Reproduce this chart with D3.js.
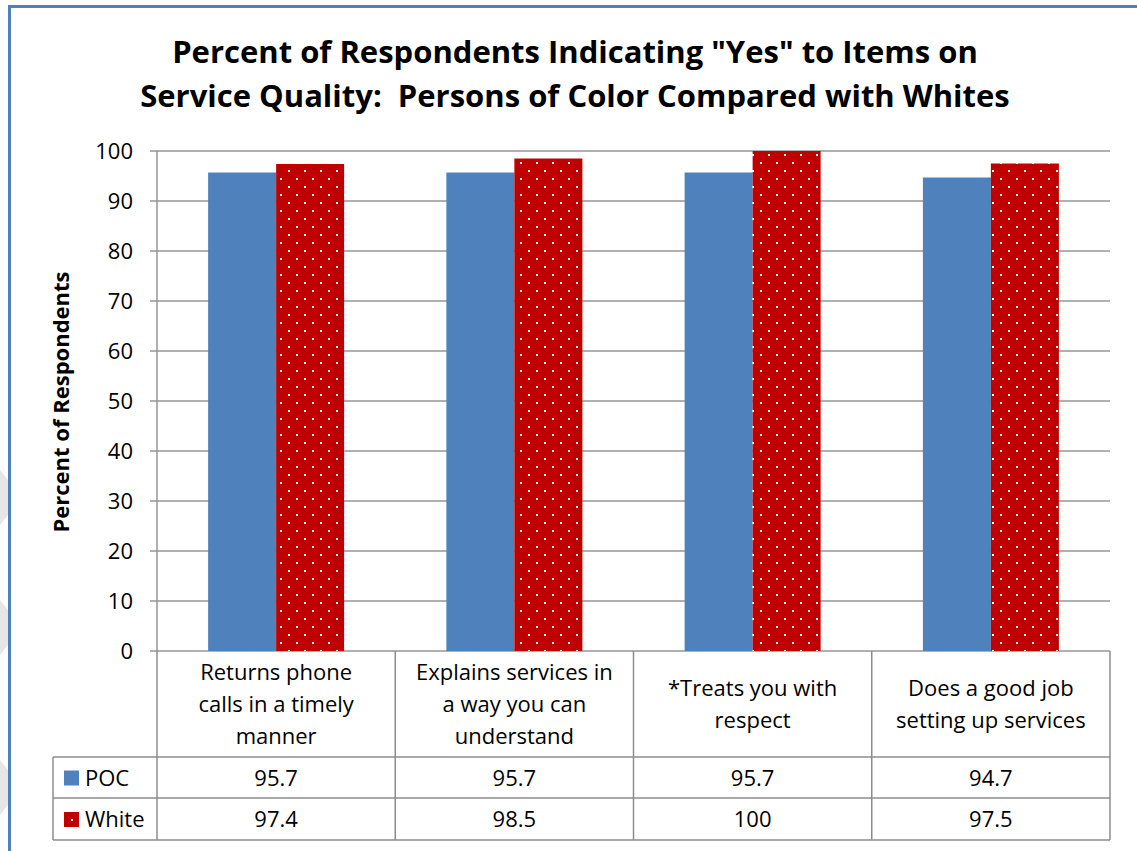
<!DOCTYPE html>
<html><head><meta charset="utf-8">
<script src="https://cdn.jsdelivr.net/npm/d3@7"></script>
<style>body{margin:0;background:#fff;overflow:hidden}svg{display:block}text{white-space:pre}</style>
</head><body>
<script>
const categories = [
  ["Returns phone","calls in a timely","manner"],
  ["Explains services in","a way you can","understand"],
  ["*Treats you with","respect"],
  ["Does a good job","setting up services"]
];
const seriesNames = ["POC","White"];
const pocValues = [95.7, 95.7, 95.7, 94.7];
const whiteValues = [97.4, 98.5, 100, 97.5];
const pocLabels = ["95.7","95.7","95.7","94.7"];
const whiteLabels = ["97.4","98.5","100","97.5"];
const yTicks = [0,10,20,30,40,50,60,70,80,90,100];
const titleLines = ['Percent of Respondents Indicating "Yes" to Items on','Service Quality:  Persons of Color Compared with Whites'];
const yLabel = "Percent of Respondents";

(function(){
const W = 1137, H = 851;
const font = "'Open Sans', 'Noto Sans', sans-serif";
const svg = d3.select("body").append("svg").attr("width", W).attr("height", H);
const defs = svg.append("defs");
const pat = defs.append("pattern").attr("id","dots").attr("patternUnits","userSpaceOnUse")
  .attr("width",16).attr("height",16).attr("x",0).attr("y",0);
pat.append("rect").attr("width",16).attr("height",16).attr("fill","#C00000");
pat.append("rect").attr("x",8).attr("y",2).attr("width",2).attr("height",2).attr("fill","#fff");
pat.append("rect").attr("x",0).attr("y",10).attr("width",2).attr("height",2).attr("fill","#fff");

const gray = svg.append("g").attr("fill","#e6e6e6");
[[0,470],[0,600],[0,760]].forEach(([x0,y0])=>{
  gray.append("path").attr("d",`M0,${y0} L8,${y0+10} L8,${y0+45} L0,${y0+55} Z`);
});

svg.append("path").attr("d",`M9.5,${H} L9.5,6.5 L${W},6.5`).attr("fill","none")
  .attr("stroke","#4F81BD").attr("stroke-width",3);

const title = svg.append("text").attr("font-family",font).attr("font-weight","bold")
  .attr("font-size",31).attr("text-anchor","middle").attr("fill","#000");
titleLines.forEach((t,i)=>title.append("tspan").attr("x",575).attr("y",63+i*44).text(t));

const pLeft = 157, pRight = 1110, pTop = 151, pBottom = 651;
const x = d3.scaleBand().domain(d3.range(categories.length)).range([pLeft,pRight]);
const y = d3.scaleLinear().domain([0,100]).range([pBottom,pTop]);

svg.append("g").selectAll("line").data(yTicks).join("line")
  .attr("x1",pLeft-7).attr("x2",pRight).attr("y1",d=>y(d)).attr("y2",d=>y(d))
  .attr("stroke","#969696").attr("stroke-width",1.5);

const yAxis = svg.append("g").attr("transform",`translate(${pLeft},0)`)
  .call(d3.axisLeft(y).tickValues(yTicks).tickSize(0).tickPadding(24));
yAxis.select(".domain").remove();
yAxis.selectAll("text").attr("font-family",font).attr("font-size",22).attr("fill","#000");
svg.append("line").attr("x1",pLeft).attr("x2",pLeft).attr("y1",pTop).attr("y2",pBottom)
  .attr("stroke","#969696").attr("stroke-width",1.5);

svg.append("text").attr("font-family",font).attr("font-weight","bold").attr("font-size",22)
  .attr("text-anchor","middle").attr("transform","translate(69,402) rotate(-90)").text(yLabel);

const barW = 68;
const bx = i => x(i) + x.bandwidth()/2;
svg.append("g").selectAll("rect").data(pocValues).join("rect")
  .attr("x",(d,i)=>bx(i)-barW).attr("width",barW).attr("y",d=>y(d)).attr("height",d=>y(0)-y(d))
  .attr("fill","#4F81BD");
svg.append("g").selectAll("rect").data(whiteValues).join("rect")
  .attr("x",(d,i)=>bx(i)).attr("width",barW).attr("y",d=>y(d)).attr("height",d=>y(0)-y(d))
  .attr("fill","url(#dots)");

const tbl = svg.append("g").attr("stroke","#8c8c8c").attr("stroke-width",1.5).attr("fill","none");
const tLeft = 53, r1 = 757, r2 = 798, r3 = 840;
tbl.append("line").attr("x1",pRight).attr("x2",pRight).attr("y1",pBottom).attr("y2",r3);
x.domain().forEach(i=>{
  tbl.append("line").attr("x1",x(i)).attr("x2",x(i)).attr("y1",pBottom).attr("y2",r3);
});
[r1,r2,r3].forEach(r=>tbl.append("line").attr("x1",tLeft).attr("x2",pRight).attr("y1",r).attr("y2",r));
tbl.append("line").attr("x1",tLeft).attr("x2",tLeft).attr("y1",r1).attr("y2",r3);

const catText = svg.append("g").attr("font-family",font).attr("font-size",22).attr("text-anchor","middle");
categories.forEach((lines,i)=>{
  const n = lines.length;
  const cy = (pBottom + r1)/2 + 8;
  lines.forEach((l,j)=>{
    catText.append("text").attr("x",bx(i)).attr("y",cy + (j-(n-1)/2)*32).text(l);
  });
});
[[pocLabels,r1,r2],[whiteLabels,r2,r3]].forEach(([labs,a,b])=>{
  labs.forEach((t,i)=>{
    catText.append("text").attr("x",bx(i)).attr("y",(a+b)/2+8).text(t);
  });
});
const lg = svg.append("g").attr("font-family",font).attr("font-size",22);
seriesNames.forEach((s,k)=>{
  const [a,b] = [[r1,r2],[r2,r3]][k];
  const cy = (a+b)/2;
  lg.append("rect").attr("x",64).attr("y",cy-7).attr("width",15).attr("height",15)
    .attr("fill", k===0 ? "#4F81BD" : "#C00000");
  if(k===1) lg.append("rect").attr("x",71).attr("y",cy).attr("width",2).attr("height",2).attr("fill","#fff");
  lg.append("text").attr("x",85).attr("y",cy+8).text(s);
});
})();
</script>
</body></html>
